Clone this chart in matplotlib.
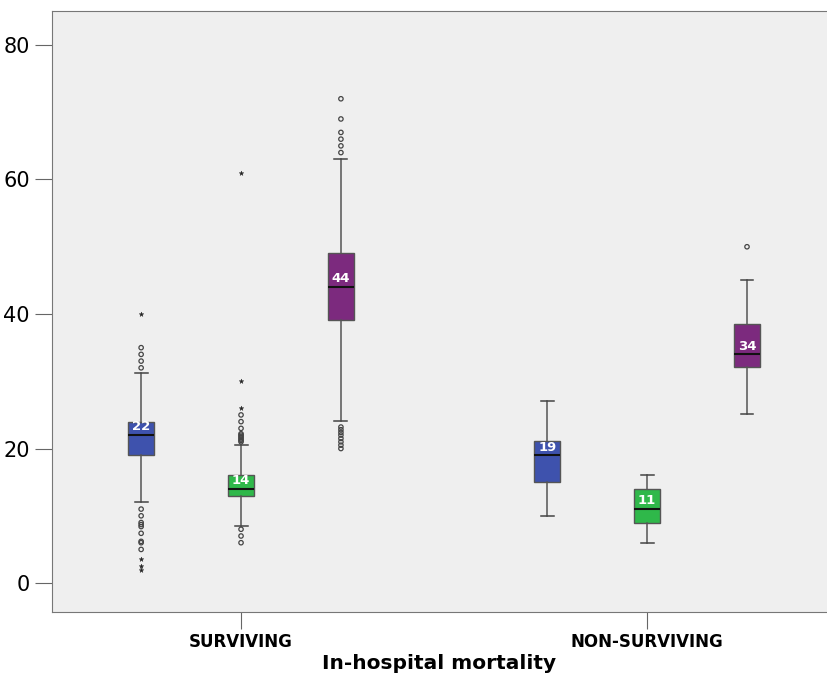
import matplotlib.pyplot as plt
import numpy as np

# groups and series
groups = ["SURVIVING", "NON-SURVIVING"]
series_colors = ["#3e52ad", "#2fb84a", "#7c2a7e"]

# box stats: (q1, median, q3, whisker low, whisker high)
q1 = [[19.0, 12.9, 39.1], [15.1, 9.0, 32.1]]
med = [[22, 14, 44], [19, 11, 34]]
q3 = [[24.0, 16.0, 49.0], [21.1, 14.0, 38.5]]
whislo = [[12.0, 8.5, 24.1], [10.0, 6.0, 25.1]]
whishi = [[31.3, 20.5, 63.1], [27.0, 16.0, 45.1]]

# outliers (circles) and extremes (stars)
outliers = [
    [[35, 34, 33, 32, 11, 10, 9, 8.7, 8.4, 7.4, 6.2, 6.0, 5.0],
     [25, 24, 23, 22.2, 22.0, 21.8, 21.6, 21.4, 21.2, 21.0, 8, 7, 6],
     [72, 69, 67, 66, 65, 64, 23.2, 22.8, 22.4, 22.0, 21.5, 21.0, 20.5, 20.0]],
    [[], [], [50]],
]
extremes = [
    [[40, 3.6, 2.5, 1.9], [61, 30, 26], []],
    [[], [], []],
]

offset = 0.246
width = 0.064

fig = plt.figure(figsize=(8.27, 6.77), dpi=100, facecolor="white")
ax = fig.add_axes([52/827, 1 - 612/677, (827 - 52)/827, (612 - 11)/677])
ax.set_facecolor("#efefef")

for g in range(2):
    for s in range(3):
        pos = g + (s - 1) * offset
        stats = [dict(med=med[g][s], q1=q1[g][s], q3=q3[g][s],
                      whislo=whislo[g][s], whishi=whishi[g][s], fliers=[])]
        ax.bxp(stats, positions=[pos], widths=width, patch_artist=True,
               showfliers=False,
               boxprops=dict(facecolor=series_colors[s], edgecolor="#555555", linewidth=1),
               medianprops=dict(color="#111111", linewidth=1.5),
               whiskerprops=dict(color="#555555", linewidth=1.1),
               capprops=dict(color="#444444", linewidth=1.1),
               capwidths=width * 0.5)
        if outliers[g][s]:
            ax.scatter([pos] * len(outliers[g][s]), outliers[g][s], s=10,
                       facecolors="none", edgecolors="#444444", linewidths=0.9, zorder=3)
        if extremes[g][s]:
            ax.scatter([pos] * len(extremes[g][s]), extremes[g][s], s=12,
                       marker="*", color="#222222", linewidths=0.3, zorder=3)
        ax.text(pos, med[g][s] + 0.25, str(med[g][s]), color="white",
                fontsize=9.5, fontweight="bold", ha="center", va="bottom", zorder=4)

ax.set_xlim(-0.4655, 1.443)
ax.set_ylim(-4.3, 85.05)
ax.set_yticks([0, 20, 40, 60, 80])
ax.set_xticks([0, 1])
ax.set_xticklabels(groups, fontsize=12, fontweight="bold")
ax.tick_params(axis="y", labelsize=15, length=12, color="#666666", pad=4)
ax.tick_params(axis="x", length=12, color="#666666", pad=3)
ax.set_xlabel("In-hospital mortality", fontsize=14.5, fontweight="bold", labelpad=2)

for side in ["left", "bottom", "top"]:
    ax.spines[side].set_color("#777777")
ax.spines["right"].set_visible(False)

fig.savefig("out.png", dpi=100, facecolor="white")
